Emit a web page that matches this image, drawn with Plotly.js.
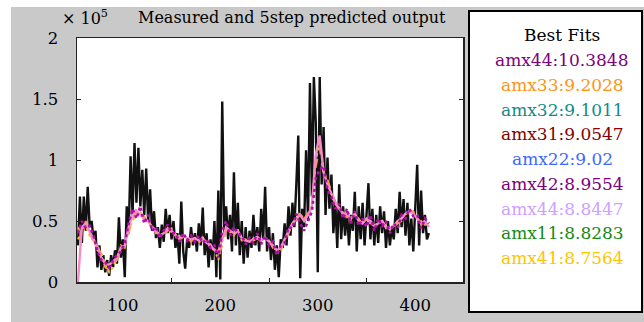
<!DOCTYPE html>
<html>
<head>
<meta charset="utf-8">
<script src="https://cdn.plot.ly/plotly-3.0.1.min.js"></script>
<style>html,body{margin:0;padding:0;background:#fff;}#chart{width:644px;height:322px;}</style>
</head>
<body>
<div id="chart"></div>
<script>
// ---- data (values in units of 10^5) ----
const chartTitle = "Measured and 5step predicted output";
const legendTitle = "Best Fits";
const fitNames = ["amx44","amx33","amx32","amx31","amx22","amx42","amx44","amx11","amx41"];
const fitScores = ["10.3848","9.2028","9.1011","9.0547","9.02","8.9554","8.8447","8.8283","8.7564"];
const fitColors = ["#800080","#FF9414","#138A8A","#850000","#3F68FF","#800080","#CFA0FF","#158A15","#FFC400"];

const xTickVals = [100,200,300,400];
const xMinorTicks = [150,250,350];
const yTickVals = [0,0.5,1,1.5,2];
const yTickText = ["0","0.5","1","1.5","2"];

// measured output, sampled every 2 steps starting at 54
const measuredStart = 54, measuredStep = 2;
const measured = [
0.30,0.70,0.32,0.70,0.42,0.78,0.45,0.50,0.35,0.42,
0.12,0.30,0.10,0.22,0.08,0.18,0.05,0.22,0.12,0.26,
0.15,0.53,0.20,0.35,0.04,0.62,0.40,1.03,0.55,1.14,
0.65,1.10,0.62,0.92,0.55,0.93,0.50,0.76,0.42,0.58,
0.36,0.45,0.28,0.47,0.33,0.60,0.40,0.55,0.35,0.50,
0.28,0.40,0.15,0.66,0.25,0.11,0.35,0.28,0.45,0.30,
0.40,0.25,0.48,0.30,0.61,0.22,0.40,0.12,0.35,0.18,
0.50,0.04,0.75,0.02,1.48,0.40,0.62,0.35,0.55,0.25,
0.90,0.30,0.65,0.22,0.50,0.15,0.45,0.20,0.42,0.28,
0.55,0.30,0.45,0.25,0.60,0.35,0.78,0.25,0.45,0.18,
0.40,0.10,0.30,0.04,0.35,0.28,0.48,0.30,0.62,0.38,
0.65,0.45,0.80,1.20,0.03,0.60,0.45,1.08,0.50,1.63,
0.70,1.68,1.30,0.08,1.68,0.80,1.27,0.55,1.02,0.60,
0.88,0.40,0.65,0.28,0.80,0.35,0.62,0.38,0.58,0.30,
0.55,0.42,0.74,0.25,0.62,0.35,0.65,0.30,0.55,0.81,
0.35,0.60,0.30,0.55,0.32,0.62,0.40,0.58,0.28,0.50,
0.30,0.45,0.35,0.60,0.40,0.74,0.45,0.68,0.38,0.65,
0.30,0.52,0.25,0.55,0.96,0.30,0.75,0.40,0.55,0.35,
0.40
];

// predicted outputs, sampled every 4 steps starting at 54
const predStart = 54, predStep = 4;
const predPink = [
0.00,0.45,0.48,0.42,0.35,0.28,0.20,0.15,0.14,0.17,
0.20,0.28,0.30,0.45,0.55,0.58,0.55,0.52,0.50,0.45,
0.42,0.38,0.40,0.44,0.42,0.38,0.36,0.38,0.36,0.35,
0.36,0.34,0.36,0.32,0.30,0.26,0.25,0.35,0.45,0.42,
0.40,0.42,0.36,0.34,0.33,0.35,0.37,0.34,0.36,0.33,
0.30,0.26,0.28,0.35,0.42,0.48,0.52,0.55,0.50,0.55,
0.62,1.05,1.20,0.90,0.80,0.72,0.65,0.60,0.56,0.55,
0.52,0.56,0.50,0.48,0.52,0.50,0.46,0.48,0.50,0.45,
0.44,0.46,0.50,0.52,0.56,0.58,0.56,0.52,0.48,0.50,
0.45
];
const predMagenta = [
0.40,0.50,0.44,0.46,0.38,0.25,0.18,0.16,0.12,0.18,
0.22,0.25,0.32,0.48,0.60,0.52,0.62,0.48,0.55,0.42,
0.45,0.36,0.42,0.47,0.40,0.40,0.33,0.40,0.34,0.38,
0.33,0.38,0.32,0.35,0.28,0.30,0.20,0.42,0.50,0.38,
0.45,0.40,0.38,0.31,0.36,0.32,0.40,0.31,0.38,0.30,
0.33,0.22,0.30,0.32,0.45,0.44,0.56,0.48,0.42,0.50,
0.58,0.85,0.92,0.95,0.75,0.70,0.60,0.64,0.52,0.60,
0.48,0.58,0.46,0.52,0.45,0.55,0.42,0.52,0.46,0.50,
0.40,0.48,0.44,0.55,0.52,0.60,0.54,0.55,0.44,0.52,
0.48
];
const predOrange = [
0.45,0.38,0.50,0.40,0.32,0.30,0.22,0.12,0.10,0.14,
0.18,0.30,0.28,0.40,0.52,0.60,0.56,0.54,0.48,0.47,
0.40,0.40,0.38,0.42,0.44,0.36,0.38,0.35,0.38,0.33,
0.37,0.32,0.37,0.30,0.31,0.24,0.22,0.30,0.42,0.44,
0.38,0.43,0.34,0.35,0.31,0.36,0.35,0.36,0.34,0.34,
0.28,0.27,0.25,0.36,0.40,0.50,0.50,0.58,0.52,0.56,
0.65,0.95,1.10,0.88,0.84,0.74,0.66,0.58,0.57,0.53,
0.54,0.54,0.52,0.47,0.50,0.48,0.47,0.46,0.51,0.44,
0.45,0.45,0.48,0.50,0.54,0.57,0.58,0.50,0.50,0.47,
0.44
];
const predGold = [
0.35,0.42,0.46,0.38,0.34,0.26,0.24,0.14,0.08,0.12,
0.20,0.26,0.32,0.42,0.50,0.56,0.58,0.50,0.50,0.44,
0.43,0.37,0.41,0.43,0.41,0.39,0.35,0.37,0.37,0.34,
0.35,0.35,0.34,0.33,0.29,0.27,0.18,0.33,0.44,0.41,
0.41,0.40,0.37,0.33,0.34,0.34,0.36,0.33,0.37,0.32,
0.31,0.24,0.27,0.34,0.41,0.47,0.53,0.56,0.51,0.54,
0.63,1.00,1.15,0.92,0.82,0.71,0.64,0.61,0.55,0.56,
0.51,0.55,0.51,0.49,0.51,0.49,0.45,0.49,0.49,0.46,
0.43,0.47,0.49,0.53,0.55,0.59,0.55,0.53,0.47,0.49,
0.46
];

// ---- build ----
function grid(arr, start, step){ return arr.map((_, i) => start + step * i); }

const serif = "DejaVu Serif";

const traces = [
  {x: grid(measured, measuredStart, measuredStep), y: measured, mode: "lines",
   line: {color: "#111111", width: 2.4}, hoverinfo: "skip"},
  {x: grid(predGold, predStart, predStep), y: predGold, mode: "lines",
   line: {color: "#F5C040", width: 2, dash: "dot"}, hoverinfo: "skip"},
  {x: grid(predOrange, predStart, predStep), y: predOrange, mode: "lines",
   line: {color: "#F59A45", width: 2, dash: "dash"}, hoverinfo: "skip"},
  {x: grid(predPink, predStart, predStep), y: predPink, mode: "lines",
   line: {color: "#F48CC8", width: 2.4}, hoverinfo: "skip"},
  {x: grid(predMagenta, predStart, predStep), y: predMagenta, mode: "lines",
   line: {color: "#B010A8", width: 2.6, dash: "dot"}, hoverinfo: "skip"}
];

const L = 77, R = 463, T = 38, B = 282, W = 644, H = 322;
const px = v => (v - L) / (R - L);
const py = v => (B - v) / (B - T);

const annotations = [
  {text: chartTitle, x: px(292), y: py(18), xref: "paper", yref: "paper",
   xanchor: "center", yanchor: "middle", showarrow: false,
   font: {family: serif, size: 16, color: "#000"}},
  {text: "\u00D7 10<sup>5</sup>", x: px(60), y: py(18), xref: "paper", yref: "paper",
   xanchor: "left", yanchor: "middle", showarrow: false,
   font: {family: serif, size: 16, color: "#000"}},
  {text: legendTitle, x: px(562), y: py(35), xref: "paper", yref: "paper",
   xanchor: "center", yanchor: "middle", showarrow: false,
   font: {family: serif, size: 17, color: "#000"}}
];
fitNames.forEach((n, i) => {
  annotations.push({text: n + ":" + fitScores[i], x: px(562), y: py(60 + 24.75 * i),
    xref: "paper", yref: "paper", xanchor: "center", yanchor: "middle", showarrow: false,
    font: {family: serif, size: 17, color: fitColors[i]}});
});

const shapes = [
  {type: "rect", xref: "paper", yref: "paper", x0: px(11), x1: px(644), y0: py(7), y1: py(322),
   fillcolor: "#C9C9C9", line: {width: 0}, layer: "below"},
  {type: "rect", xref: "paper", yref: "paper", x0: 0, x1: 1, y0: 0, y1: 1,
   fillcolor: "#FFFFFF", line: {width: 0}, layer: "below"},
  {type: "rect", xref: "paper", yref: "paper", x0: px(469), x1: px(642), y0: py(11), y1: py(312),
   fillcolor: "#FFFFFF", line: {color: "#000", width: 2}, layer: "below"}
];

const layout = {
  width: W, height: H,
  margin: {l: L, r: W - R, t: T, b: H - B, pad: 0},
  paper_bgcolor: "#FFFFFF", plot_bgcolor: "rgba(0,0,0,0)",
  showlegend: false,
  font: {family: serif, size: 17, color: "#000"},
  xaxis: {range: [53, 449], tickvals: xTickVals, ticks: "", showgrid: false, zeroline: false,
    showline: true, linecolor: "#222", linewidth: 1.5, mirror: true, ticklabelstandoff: 8,
    tickfont: {family: serif, size: 16.5, color: "#000"},
    minor: {tickvals: xMinorTicks, ticks: "inside", ticklen: 4, tickcolor: "#222", tickwidth: 1, showgrid: false}},
  yaxis: {range: [0, 2], tickvals: yTickVals, ticktext: yTickText, ticks: "inside", ticklen: 4,
    tickcolor: "#222", showgrid: false, zeroline: false, showline: true, linecolor: "#222",
    linewidth: 1.5, mirror: "ticks", ticklabelstandoff: 14,
    tickfont: {family: serif, size: 16.5, color: "#000"}},
  annotations: annotations,
  shapes: shapes
};

Plotly.newPlot("chart", traces, layout, {displayModeBar: false, staticPlot: true});
</script>
</body>
</html>
